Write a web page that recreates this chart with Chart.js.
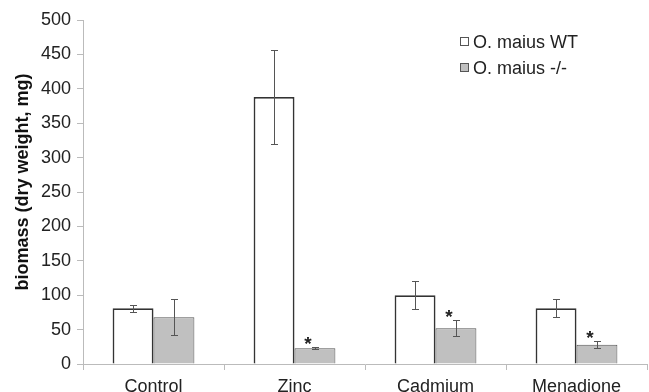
<!DOCTYPE html>
<html><head><meta charset="utf-8">
<script src="https://cdn.jsdelivr.net/npm/chart.js@4/dist/chart.umd.min.js"></script>
<style>html,body{margin:0;padding:0;background:#fff}#wrap{width:649px;height:392px}</style>
</head><body><div id="wrap"><canvas id="c" width="649" height="392"></canvas></div>
<script>
const categories = ["Control", "Zinc", "Cadmium", "Menadione"];
const wtValues = [81, 388, 100, 81];
const wtErrors = [5, 68, 20, 13];
const mutValues = [68, 23, 52, 28];
const mutErrors = [26, 1.5, 12, 5];
const mutSignificant = [false, true, true, true];
const seriesNames = ["O. maius WT", "O. maius -/-"];
const yTicks = [0, 50, 100, 150, 200, 250, 300, 350, 400, 450, 500];
const yTitle = "biomass (dry weight, mg)";

const FONT = "'Liberation Sans', Arial, sans-serif";
const errors = [wtErrors, mutErrors];

const extras = {
  id: 'extras',
  afterDatasetsDraw(chart) {
    const ctx = chart.ctx;
    const y = chart.scales.y;
    ctx.save();
    chart.data.datasets.forEach((ds, di) => {
      const meta = chart.getDatasetMeta(di);
      meta.data.forEach((bar, i) => {
        const v = ds.data[i], e = errors[di][i];
        const x = Math.round(bar.x);
        const yt = Math.round(y.getPixelForValue(v + e)), yb = Math.round(y.getPixelForValue(v - e));
        ctx.strokeStyle = '#555';
        ctx.lineWidth = 1;
        ctx.beginPath();
        ctx.moveTo(x + 0.5, yt); ctx.lineTo(x + 0.5, yb);
        ctx.moveTo(x - 3, yt + 0.5); ctx.lineTo(x + 4, yt + 0.5);
        ctx.moveTo(x - 3, yb + 0.5); ctx.lineTo(x + 4, yb + 0.5);
        ctx.stroke();
        if (di === 1 && mutSignificant[i]) {
          ctx.fillStyle = '#222';
          ctx.font = "bold 19px " + FONT;
          ctx.textAlign = 'center';
          ctx.textBaseline = 'alphabetic';
          ctx.fillText('*', x - 7, yt + 3);
        }
      });
    });
    // legend
    const items = [{fill: '#ffffff', stroke: '#555'}, {fill: '#c0c0c0', stroke: '#555'}];
    ctx.font = "18px " + FONT;
    ctx.textAlign = 'left';
    ctx.textBaseline = 'middle';
    items.forEach((it, k) => {
      const cy = 42 + k * 26;
      ctx.fillStyle = it.fill;
      ctx.fillRect(460.5, cy - 4.5, 8, 8);
      ctx.strokeStyle = it.stroke;
      ctx.lineWidth = 1;
      ctx.strokeRect(460.5, cy - 4.5, 8, 8);
      ctx.fillStyle = '#222';
      ctx.fillText(seriesNames[k], 473, cy + 1);
    });
    // y title
    ctx.translate(23, 182);
    ctx.rotate(-Math.PI / 2);
    ctx.font = "bold 18px " + FONT;
    ctx.textAlign = 'center';
    ctx.fillStyle = '#111';
    ctx.fillText(yTitle, 0, 0);
    ctx.restore();
  }
};

new Chart(document.getElementById('c'), {
  type: 'bar',
  data: {
    labels: categories,
    datasets: [
      {label: seriesNames[0], data: wtValues, backgroundColor: '#ffffff', borderColor: '#333', borderWidth: 1.8},
      {label: seriesNames[1], data: mutValues, backgroundColor: '#c0c0c0', borderColor: '#555', borderWidth: 1}
    ]
  },
  options: {
    responsive: false,
    animation: false,
    devicePixelRatio: 1,
    layout: {padding: {top: 20, right: 2, left: 0, bottom: 0}},
    datasets: {bar: {categoryPercentage: 0.58, barPercentage: 1}},
    plugins: {legend: {display: false}, tooltip: {enabled: false}},
    scales: {
      x: {
        grid: {display: true, drawOnChartArea: false, drawTicks: true, tickLength: 6, color: '#bbb', offset: true},
        border: {color: '#bbb'},
        ticks: {color: '#222', font: {family: FONT, size: 18}, padding: 6, maxRotation: 0},
        afterFit(s) { s.height = 28; }
      },
      y: {
        min: 0, max: 500,
        afterBuildTicks(s) { s.ticks = yTicks.map(v => ({value: v})); },
        grid: {display: true, drawOnChartArea: false, drawTicks: true, tickLength: 6, color: '#bbb'},
        border: {color: '#bbb'},
        ticks: {color: '#222', font: {family: FONT, size: 18}, padding: 6},
        title: {display: false},
        afterFit(s) { s.width = 83; }
      }
    }
  },
  plugins: [extras]
});
</script></body></html>
